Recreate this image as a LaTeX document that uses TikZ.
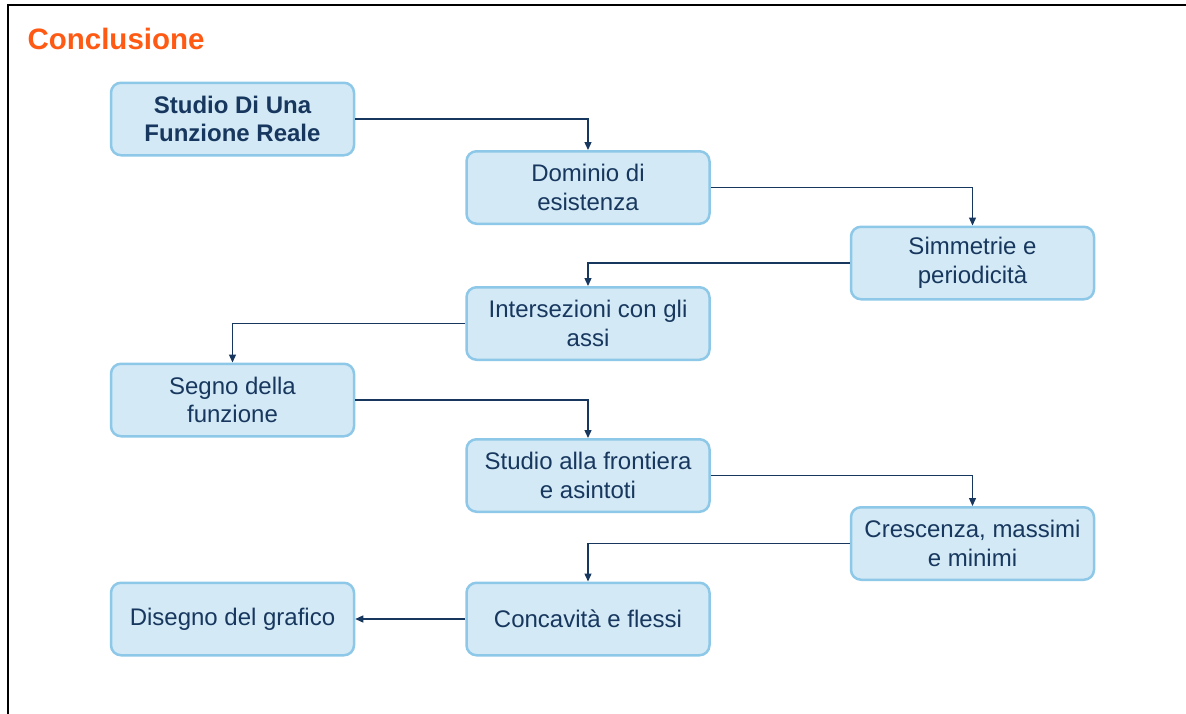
\documentclass[tikz,border=0pt]{standalone}
\usepackage{fontspec}
\setmainfont{Liberation Sans}
\usetikzlibrary{arrows.meta}
\definecolor{boxfill}{HTML}{D3E9F5}
\definecolor{boxline}{HTML}{8DC8E8}
\definecolor{txt}{HTML}{17375E}
\definecolor{ttl}{HTML}{FF5A14}
\begin{document}
\begin{tikzpicture}[x=1pt,y=-1pt,
  box/.style={draw=boxline, fill=boxfill, line width=2.5pt, rounded corners=10pt,
    minimum width=243pt, minimum height=72.5pt, align=center, text=txt,
    font=\fontsize{24}{28.5}\selectfont, inner sep=0pt},
  conn/.style={draw=txt, line width=1.3pt, -{Triangle[length=8pt,width=7pt]}}]
\useasboundingbox (0,0) rectangle (1186,713);
\draw[line width=2.5pt] (8,714) -- (8,5) -- (1187,5);
\node[anchor=base west, text=ttl, font=\bfseries\fontsize{29.5}{34}\selectfont] (title) at (24,49.5) {Conclusione};
\node[box, font=\bfseries\fontsize{24}{28.5}\selectfont] (n1) at (232.5,119) {Studio Di Una\\Funzione Reale};
\node[box] (n2) at (588,187.5) {Dominio di\\esistenza};
\node[box] (n3) at (972.5,263) {Simmetrie e\\periodicità};
\node[box] (n4) at (588,323.5) {Intersezioni con gli\\assi};
\node[box] (n5) at (232.5,400) {Segno della\\funzione};
\node[box] (n6) at (588,475.5) {Studio alla frontiera\\e asintoti};
\node[box] (n7) at (972.5,543.5) {Crescenza, massimi\\e minimi};
\node[box] (n8) at (588,619) {\raisebox{-1pt}{Concavità e flessi}};
\node[box] (n9) at (232.5,619) {\raisebox{-1pt}{Disegno del grafico}};
\draw[conn] (n1.east) -| (n2.north);
\draw[conn] (n2.east) -| (n3.north);
\draw[conn] (n3.west) -| (n4.north);
\draw[conn] (n4.west) -| (n5.north);
\draw[conn] (n5.east) -| (n6.north);
\draw[conn] (n6.east) -| (n7.north);
\draw[conn] (n7.west) -| (n8.north);
\draw[conn] (n8.west) -- (n9.east);
\end{tikzpicture}
\end{document}
